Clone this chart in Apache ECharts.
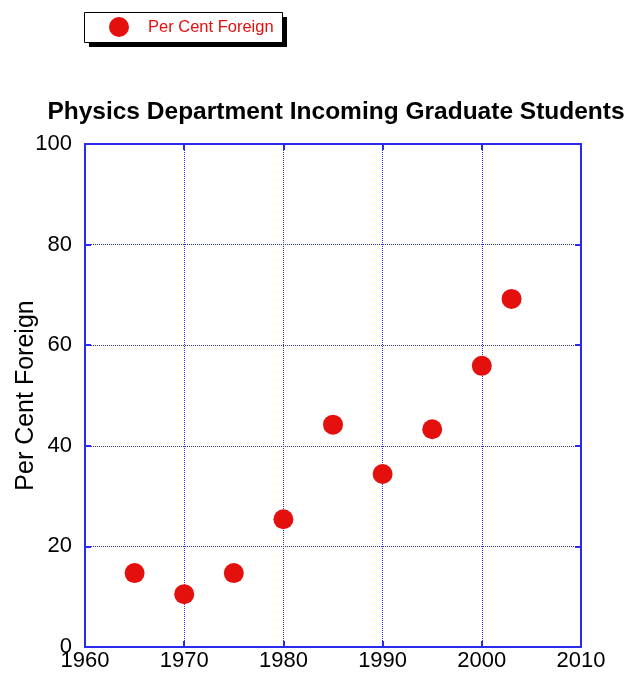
<!DOCTYPE html>
<html>
<head>
<meta charset="utf-8">
<script src="https://cdn.jsdelivr.net/npm/echarts@6/dist/echarts.min.js"></script>
<style>
  html, body { margin: 0; padding: 0; background: #fff; }
  #chart { width: 630px; height: 675px; }
</style>
</head>
<body>
<div id="chart"></div>
<script>
// data
const years = [1965, 1970, 1975, 1980, 1985, 1990, 1995, 2000, 2003];
const perCentForeign = [14.7, 10.5, 14.7, 25.4, 44.2, 34.4, 43.3, 55.9, 69.2];
const seriesName = "Per Cent Foreign";

const blue = "#2b2bf0";
const red = "#e3100e";
const font = "Liberation Sans, Arial, Helvetica, sans-serif";

const chart = echarts.init(document.getElementById("chart"));

const points = years.map((y, i) => [y, perCentForeign[i]]);

const tickStyle = { show: true, inside: true, length: 6, lineStyle: { color: blue, width: 2 } };

chart.setOption({
  animation: false,
  backgroundColor: "#fff",
  title: {
    text: "Physics Department Incoming Graduate Students",
    left: 331,
    textAlign: "center",
    top: 95,
    textStyle: { fontFamily: font, fontSize: 24.5, fontWeight: "bold", color: "#000" },
  },
  // legend frame with its hard black drop shadow
  graphic: [
    { type: "rect", left: 89, top: 17, shape: { width: 198, height: 30 }, style: { fill: "#000" }, z: 0 },
    { type: "rect", left: 84, top: 12, shape: { width: 198, height: 30 }, style: { fill: "#fff", stroke: "#000", lineWidth: 1 }, z: 1 },
  ],
  legend: {
    left: 109,
    top: 17,
    padding: 0,
    icon: "circle",
    itemWidth: 20,
    itemHeight: 20,
    z: 10,
    textStyle: { fontFamily: font, fontSize: 16.5, color: red, padding: [0, 0, 0, 14] },
    data: [seriesName],
  },
  grid: { left: 85, right: 49, top: 144, bottom: 28, show: false, containLabel: false, outerBoundsMode: "none" },
  xAxis: [
    {
      type: "value",
      min: 1960,
      max: 2010,
      interval: 10,
      axisLine: { show: true, onZero: false, lineStyle: { color: blue, width: 2 } },
      axisTick: tickStyle,
      axisLabel: { color: "#000", fontFamily: font, fontSize: 22, margin: 3, formatter: (v) => String(v) },
      splitLine: { show: true, lineStyle: { color: blue, type: [1, 1], width: 1 } },
    },
    {
      type: "value",
      position: "top",
      min: 1960,
      max: 2010,
      interval: 10,
      axisLine: { show: true, onZero: false, lineStyle: { color: blue, width: 2 } },
      axisTick: tickStyle,
      axisLabel: { show: false },
      splitLine: { show: false },
    },
  ],
  yAxis: [
    {
      type: "value",
      min: 0,
      max: 100,
      interval: 20,
      name: seriesName,
      nameLocation: "middle",
      nameGap: 46,
      nameMoveOverlap: false,
      nameTextStyle: { fontFamily: font, fontSize: 25, color: "#000" },
      axisLine: { show: true, onZero: false, lineStyle: { color: blue, width: 2 } },
      axisTick: tickStyle,
      axisLabel: { color: "#000", fontFamily: font, fontSize: 22, margin: 13 },
      splitLine: { show: true, lineStyle: { color: blue, type: [1, 1], width: 1 } },
    },
    {
      type: "value",
      position: "right",
      min: 0,
      max: 100,
      interval: 20,
      axisLine: { show: true, onZero: false, lineStyle: { color: blue, width: 2 } },
      axisTick: tickStyle,
      axisLabel: { show: false },
      splitLine: { show: false },
    },
  ],
  series: [
    {
      name: seriesName,
      type: "scatter",
      symbol: "circle",
      symbolSize: 20,
      itemStyle: { color: red, opacity: 1 },
      data: points,
      z: 5,
    },
  ],
});
</script>
</body>
</html>
